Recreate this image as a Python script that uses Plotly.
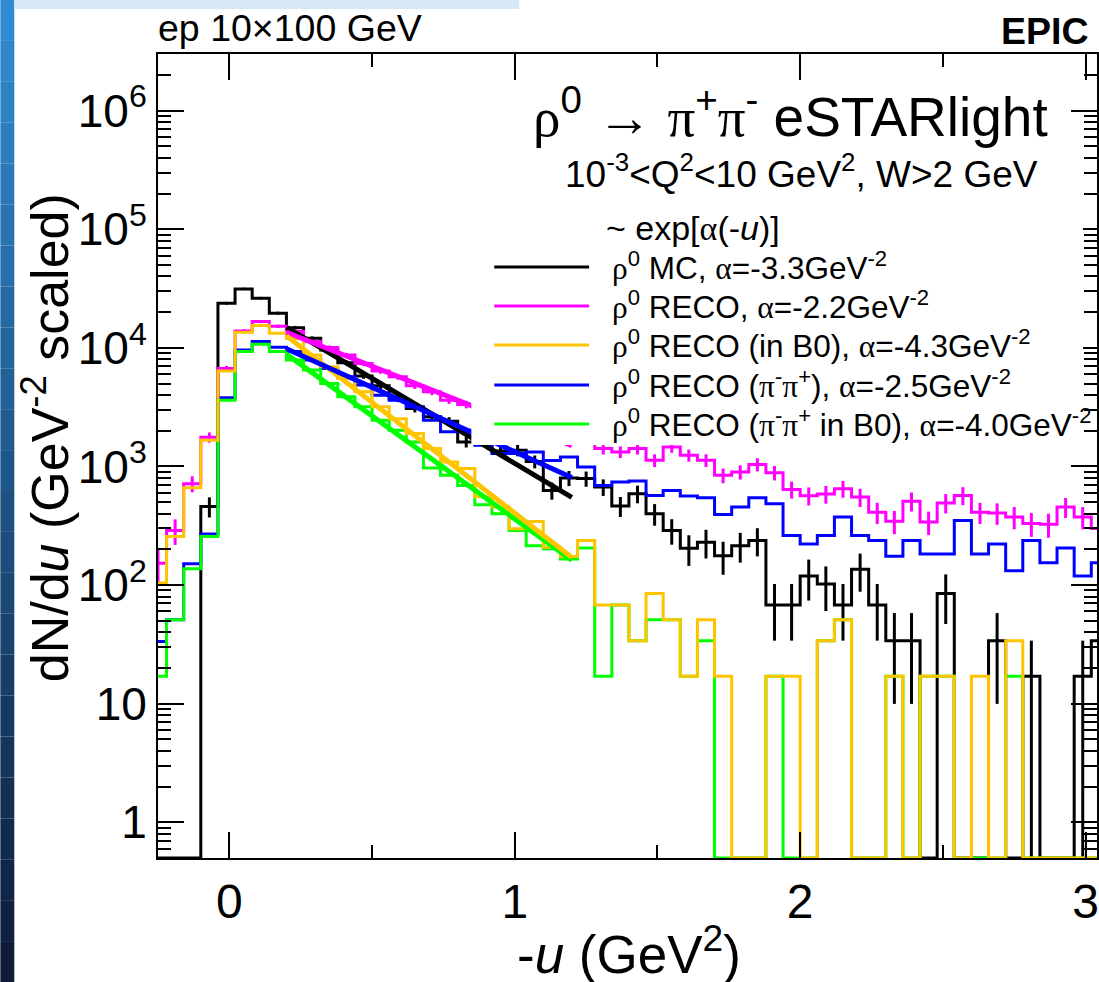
import numpy as np
import plotly.graph_objects as go

# ---------------- data ----------------
BIN_LOW = -0.28        # first bin edge, GeV^2
BIN_WIDTH = 0.06       # GeV^2
N_BINS = 56
COUNT_SCALE = 17.0     # weight of one event (for Poisson error bars)

mc_counts = [0, 0, 0, 460, 23780, 31400, 26200, 19600, 14800, 12030,
             9580, 7500, 5800, 4790, 3740, 3080, 2620, 2400, 1610, 1700,
             1350, 1370, 1100, 628, 800, 790, 671, 464, 589, 399,
             289, 204, 230, 177, 215, 238, 68, 68, 119, 102,
             68, 136, 68, 34, 34, 0, 85, 0, 0, 34,
             0, 17, 0, 0, 17, 34]

reco_counts = [153, 288, 716, 1760, 6710, 13870, 16640, 15200, 13700, 11280,
               10040, 8690, 7390, 6370, 5710, 4790, 4260, 3620, 3330, 2960,
               2600, 2275, 2000, 1750, 1750, 1700, 1414, 1325, 1414, 1127,
               1462, 1242, 1127, 841, 898, 1040, 885, 640, 567, 585,
               650, 552, 410, 345, 510, 340, 493, 570, 410, 405,
               375, 330, 325, 455, 375, 300]

reco_b0_counts = [104, 257, 662, 1663, 6370, 13520, 15410, 13270, 12000, 8690,
                  6930, 5520, 4260, 3180, 2530, 1893, 1414, 1092, 960, 556,
                  455, 298, 344, 208, 174, 237, 68, 68, 34, 85,
                  51, 17, 51, 17, 0, 0, 17, 17, 0, 34,
                  51, 0, 0, 17, 0, 17, 17, 0, 17, 0,
                  34, 0, 0, 0, 0, 0]

reco_pipi_counts = [33.5, 51, 151, 270, 3790, 9580, 11280, 10090, 9290, 7890,
                    6710, 5710, 4850, 3990, 3620, 3180, 2450, 1960, 2020, 1508,
                    1283, 1283, 1325, 1120, 1203, 991, 692, 739, 754, 570,
                    628, 563, 545, 394, 455, 545, 485, 262, 222, 262,
                    374, 262, 237, 175, 237, 183, 183, 350, 183, 222,
                    132, 237, 154, 205, 119, 154]

reco_pipi_b0_counts = [17, 51, 137, 257, 3620, 9290, 10710, 9290, 7890, 6500,
                       5010, 3870, 3180, 2450, 2020, 1610, 971, 841, 692, 475,
                       399, 288, 215, 202, 166, 205, 17, 68, 34, 51,
                       51, 17, 34, 0, 0, 0, 17, 0, 0, 34,
                       51, 0, 0, 17, 0, 17, 17, 0, 0, 0,
                       17, 0, 0, 0, 0, 0]

series_names = ["MC", "RECO", "RECO (in B0)", "RECO (pi-pi+)", "RECO (pi-pi+ in B0)"]
series_colors = ["#000000", "#ff00ff", "#ffc400", "#0000ff", "#00ff00"]
fit_alpha = [-3.3, -2.2, -4.3, -2.5, -4.0]          # GeV^-2
fit_amplitude = [28800, 21000, 29800, 16200, 19700]  # value at -u = 0
fit_range = [0.2, 1.2]

legend_header = "~ exp[α(-<i>u</i>)]"
legend_labels = [
    "ρ<sup>0</sup> MC, α=-3.3GeV<sup>-2</sup>",
    "ρ<sup>0</sup> RECO, α=-2.2GeV<sup>-2</sup>",
    "ρ<sup>0</sup> RECO (in B0), α=-4.3GeV<sup>-2</sup>",
    "ρ<sup>0</sup> RECO (π<sup>-</sup>π<sup>+</sup>), α=-2.5GeV<sup>-2</sup>",
    "ρ<sup>0</sup> RECO (π<sup>-</sup>π<sup>+</sup> in B0), α=-4.0GeV<sup>-2</sup>",
]

y_tick_vals = [1, 10, 100, 1000, 1e4, 1e5, 1e6]
y_tick_text = ["1", "10", "10<sup>2</sup>", "10<sup>3</sup>", "10<sup>4</sup>",
               "10<sup>5</sup>", "10<sup>6</sup>"]
Y_MIN, Y_MAX = 0.5, 3.0e6
X_MIN, X_MAX = -0.25, 3.04

# ---------------- helpers ----------------
edges = BIN_LOW + BIN_WIDTH * np.arange(N_BINS + 1)
centers = edges[:-1] + BIN_WIDTH / 2

W, H = 1099, 982
ML, MR, MT, MB = 158, 0, 54, 124
PW, PH = W - ML - MR, H - MT - MB


def px(xp):
    return (xp - ML) / PW


def py(yp):
    return (H - MB - yp) / PH


def greek(s):
    for ch in "ραπ→":
        s = s.replace(ch, "<span style=\"font-family:Liberation Serif\">%s</span>" % ch)
    return s


fig = go.Figure()

hist_data = [mc_counts, reco_counts, reco_b0_counts, reco_pipi_counts, reco_pipi_b0_counts]
draw_order = [0, 1, 3, 4, 2]

for i in draw_order:
    vals = np.array(hist_data[i], dtype=float)
    disp = np.where(vals > 0, vals, Y_MIN)
    fig.add_trace(go.Scatter(
        x=edges, y=np.append(disp, disp[-1]), mode="lines",
        line=dict(color=series_colors[i], width=3, shape="hv"),
        showlegend=False, hoverinfo="skip", name=series_names[i]))
    if i in (0, 1):
        nz = vals > 0
        v = vals[nz]
        err = np.sqrt(v * COUNT_SCALE)
        err_minus = np.minimum(err, v - Y_MIN)
        fig.add_trace(go.Scatter(
            x=centers[nz], y=v, mode="markers",
            marker=dict(size=1, color=series_colors[i]),
            error_y=dict(type="data", symmetric=False, array=err, arrayminus=err_minus,
                         thickness=3, width=0, color=series_colors[i]),
            showlegend=False, hoverinfo="skip"))

fit_order = [0, 1, 4, 2, 3]
xs = np.linspace(fit_range[0], fit_range[1], 80)
for i in fit_order:
    fig.add_trace(go.Scatter(
        x=xs, y=fit_amplitude[i] * np.exp(fit_alpha[i] * xs), mode="lines",
        line=dict(color=series_colors[i], width=5),
        showlegend=False, hoverinfo="skip"))

font = "Liberation Sans, Arial, sans-serif"

shapes = []
# slide background strip on the left edge
n_strip = 24
for k in range(n_strip):
    t = k / (n_strip - 1)
    r = int(48 + (14 - 48) * t)
    g = int(140 + (28 - 140) * t)
    b = int(210 + (58 - 210) * t)
    shapes.append(dict(type="rect", xref="paper", yref="paper",
                       x0=px(0), x1=px(14), y0=py(H * (k + 1) / n_strip), y1=py(H * k / n_strip),
                       fillcolor="rgb(%d,%d,%d)" % (r, g, b), line=dict(width=0), layer="below"))
shapes.append(dict(type="rect", xref="paper", yref="paper", x0=px(14), x1=px(520),
                   y0=py(9), y1=py(0), fillcolor="#d6e7f5", line=dict(width=0), layer="below"))

# legend box (white, opaque)
shapes.append(dict(type="rect", xref="paper", yref="paper",
                   x0=px(472), x1=px(1085), y0=py(445), y1=py(208),
                   fillcolor="white", line=dict(width=0), layer="above"))
leg_y = [267, 306, 345, 385, 424]
for i in range(5):
    shapes.append(dict(type="line", xref="paper", yref="paper",
                       x0=px(495), x1=px(590), y0=py(leg_y[i]), y1=py(leg_y[i]),
                       line=dict(color=series_colors[i], width=3), layer="above"))

annotations = []
for i in range(5):
    annotations.append(dict(x=px(611), y=py(leg_y[i] - 1), xref="paper", yref="paper",
                            text=greek(legend_labels[i]), showarrow=False,
                            xanchor="left", yanchor="middle",
                            font=dict(family=font, size=31.5, color="black")))
annotations.append(dict(x=px(605), y=py(228), xref="paper", yref="paper",
                        text=greek(legend_header), showarrow=False, xanchor="left", yanchor="middle",
                        font=dict(family=font, size=34, color="black")))
annotations.append(dict(x=px(1052), y=py(113), xref="paper", yref="paper",
                        text=greek("ρ<sup>0</sup> → π<sup>+</sup>π<sup>-</sup> eSTARlight"),
                        showarrow=False, xanchor="right", yanchor="middle",
                        font=dict(family=font, size=55, color="black")))
annotations.append(dict(x=px(1042), y=py(171), xref="paper", yref="paper",
                        text="10<sup>-3</sup>&lt;Q<sup>2</sup>&lt;10 GeV<sup>2</sup>, W&gt;2 GeV",
                        showarrow=False, xanchor="right", yanchor="middle",
                        font=dict(family=font, size=37, color="black")))
annotations.append(dict(x=px(156), y=py(28), xref="paper", yref="paper",
                        text="ep 10×100 GeV", showarrow=False, xanchor="left", yanchor="middle",
                        font=dict(family=font, size=37.5, color="black")))
annotations.append(dict(x=px(1093), y=py(31), xref="paper", yref="paper",
                        text="<b>EPIC</b>", showarrow=False, xanchor="right", yanchor="middle",
                        font=dict(family=font, size=37.5, color="black")))
annotations.append(dict(x=px(630), y=py(950), xref="paper", yref="paper",
                        text="-<i>u</i> (GeV<sup>2</sup>)", showarrow=False,
                        xanchor="center", yanchor="middle",
                        font=dict(family=font, size=53, color="black")))
annotations.append(dict(x=px(46), y=py(438), xref="paper", yref="paper",
                        text="dN/d<i>u</i> (GeV<sup>-2</sup> scaled)", showarrow=False,
                        textangle=-90, xanchor="center", yanchor="middle",
                        font=dict(family=font, size=52, color="black")))

minor_y = [m * 10.0 ** e for e in range(-1, 7) for m in range(2, 10)
           if Y_MIN <= m * 10.0 ** e <= Y_MAX]

fig.update_layout(
    width=W, height=H,
    margin=dict(l=ML, r=MR, t=MT, b=MB, pad=0),
    paper_bgcolor="white", plot_bgcolor="white",
    showlegend=False, hovermode=False,
    shapes=shapes, annotations=annotations,
    font=dict(family=font, color="black"),
    xaxis=dict(range=[X_MIN, X_MAX], showgrid=False, zeroline=False,
               showline=True, linewidth=2, linecolor="black", mirror="ticks",
               ticks="inside", ticklen=26, tickwidth=2, tickcolor="black",
               tick0=0, dtick=1, tickfont=dict(size=48, family=font),
               ticklabelstandoff=0,
               minor=dict(ticks="inside", ticklen=13, tickwidth=2, tickcolor="black",
                          dtick=0.5, tick0=0, showgrid=False)),
    yaxis=dict(type="log", range=[np.log10(Y_MIN), np.log10(Y_MAX)],
               showgrid=False, zeroline=False,
               showline=True, linewidth=2, linecolor="black", mirror="ticks",
               ticks="inside", ticklen=26, tickwidth=2, tickcolor="black",
               tickmode="array", tickvals=y_tick_vals, ticktext=y_tick_text,
               tickfont=dict(size=46, family=font), ticklabelstandoff=0,
               minor=dict(ticks="inside", ticklen=13, tickwidth=2, tickcolor="black",
                          tickmode="array", tickvals=minor_y, showgrid=False)),
)

fig.write_html("out.html", config={"displayModeBar": False},
               post_script="document.body.style.margin='0';document.body.style.overflow='hidden';")
